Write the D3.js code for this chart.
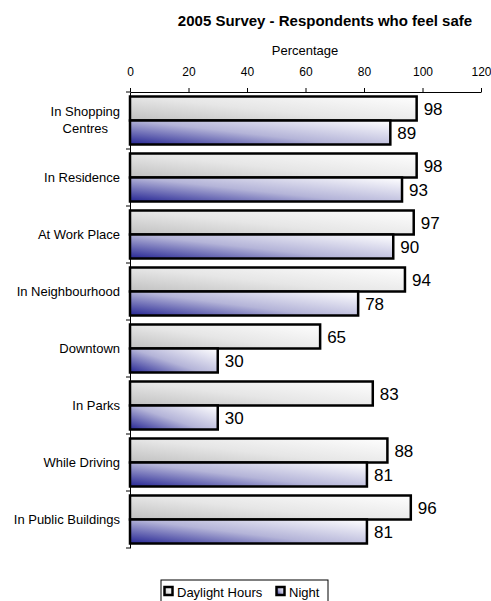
<!DOCTYPE html>
<html>
<head>
<meta charset="utf-8" />
<title>2005 Survey - Respondents who feel safe</title>
<style>
html, body {
    margin: 0;
    padding: 0;
    background: #fff;
}
#chart {
    width: 491px;
    height: 601px;
}
</style>
</head>
<body>
<div id="chart"></div>
<script src="https://cdn.jsdelivr.net/npm/d3@7"></script>
<script>
!(function(){
    "use strict"

    var categories = ["In Shopping Centres", "In Residence", "At Work Place", "In Neighbourhood",
                      "Downtown", "In Parks", "While Driving", "In Public Buildings"]
    var series = ["Daylight Hours", "Night"]
    var daylight = [98, 98, 97, 94, 65, 83, 88, 96]
    var night = [89, 93, 90, 78, 30, 30, 81, 81]
    var xTicks = [0, 20, 40, 60, 80, 100, 120]

    var width = 491, height = 601
    var margin = {top: 92, left: 130, right: 10, bottom: 53}
    var font = "'Liberation Sans', Arial, sans-serif"

    var svg = d3.select("#chart").append("svg")
        .attr("width", width)
        .attr("height", height)

    // gradients, like the excel fill effects
    var defs = svg.append("defs")
    var grads = [
        {id: "g0", from: "#c4c4c4", mid: "#e6e6e6", to: "#fcfcfc"},
        {id: "g1", from: "#33339a", mid: "#b4b4d8", to: "#fafafd"}
    ]
    grads.forEach(function(g) {
        var lg = defs.append("linearGradient")
            .attr("id", g.id)
            .attr("x1", 0).attr("y1", 0.9)
            .attr("x2", 1).attr("y2", 0.1)
        lg.append("stop").attr("offset", "0%").attr("stop-color", g.from)
        lg.append("stop").attr("offset", "45%").attr("stop-color", g.mid)
        lg.append("stop").attr("offset", "100%").attr("stop-color", g.to)
    })

    var x = d3.scaleLinear()
        .domain([0, 120])
        .range([margin.left, 481])

    var y = d3.scaleBand()
        .domain(categories)
        .range([margin.top, height - margin.bottom])

    var ySub = d3.scaleBand()
        .domain(series)
        .range([0, y.bandwidth()])
        .paddingOuter(0.1875)

    var rows = categories.map(function(c, i) {
        return {cat: c, values: [daylight[i], night[i]]}
    })

    // title
    svg.append("text")
        .attr("x", 325).attr("y", 26)
        .attr("text-anchor", "middle")
        .attr("font-family", font)
        .attr("font-size", "15px")
        .attr("font-weight", "bold")
        .text("2005 Survey - Respondents who feel safe")

    svg.append("text")
        .attr("x", 305).attr("y", 55)
        .attr("text-anchor", "middle")
        .attr("font-family", font)
        .attr("font-size", "13px")
        .text("Percentage")

    // top axis
    var xAxis = d3.axisTop(x)
        .tickValues(xTicks)
        .tickSize(4)
        .tickPadding(12)
        .tickSizeOuter(0)
    var gx = svg.append("g")
        .attr("transform", "translate(0," + margin.top + ")")
        .call(xAxis)
    gx.select(".domain").attr("stroke", "#000").attr("stroke-width", 1)
    gx.selectAll(".tick line").attr("stroke", "#000")
    gx.selectAll(".tick text")
        .attr("font-family", font)
        .attr("font-size", "12px")
        .attr("fill", "#000")

    // bars
    var group = svg.append("g")
        .selectAll("g")
        .data(rows)
        .enter().append("g")
        .attr("transform", function(d) { return "translate(0," + y(d.cat) + ")" })

    group.selectAll("rect")
        .data(function(d) { return d.values.map(function(v, j) { return {s: series[j], v: v, j: j} }) })
        .enter().append("rect")
        .attr("x", x(0))
        .attr("y", function(d) { return ySub(d.s) })
        .attr("width", function(d) { return x(d.v) - x(0) })
        .attr("height", ySub.bandwidth())
        .attr("fill", function(d) { return "url(#g" + d.j + ")" })
        .attr("stroke", "#000")
        .attr("stroke-width", 2.5)

    group.selectAll("text.val")
        .data(function(d) { return d.values.map(function(v, j) { return {s: series[j], v: v} }) })
        .enter().append("text")
        .attr("class", "val")
        .attr("x", function(d) { return x(d.v) + 7 })
        .attr("y", function(d) { return ySub(d.s) + ySub.bandwidth() / 2 + 6 })
        .attr("font-family", font)
        .attr("font-size", "17px")
        .text(function(d) { return d.v })

    // left axis
    var yAxis = d3.axisLeft(y)
        .tickValues([])
        .tickSizeOuter(0)
    svg.append("g")
        .attr("transform", "translate(" + margin.left + ",0)")
        .call(yAxis)
        .select(".domain").attr("stroke", "#000")

    svg.append("g")
        .selectAll("line")
        .data(categories.map(function(c) { return y(c) }).concat([y.range()[1]]))
        .enter().append("line")
        .attr("x1", margin.left - 4).attr("x2", margin.left)
        .attr("y1", function(d) { return d }).attr("y2", function(d) { return d })
        .attr("stroke", "#000")

    // category labels, long ones wrap into two centred lines
    var wrapped = {"In Shopping Centres": ["In Shopping", "Centres"]}
    categories.forEach(function(c) {
        var cy = y(c) + y.bandwidth() / 2
        var lines = wrapped[c] || [c]
        var t = svg.append("text")
            .attr("font-family", font)
            .attr("font-size", "13px")
        lines.forEach(function(l, k) {
            t.append("tspan")
                .attr("y", cy + 4 + (k - (lines.length - 1) / 2) * 17)
                .text(l)
        })
        var maxW = 0
        t.selectAll("tspan").each(function() { maxW = Math.max(maxW, this.getComputedTextLength()) })
        t.attr("text-anchor", "middle")
        t.selectAll("tspan").attr("x", 120 - maxW / 2)
    })

    // legend
    var lg = svg.append("g").attr("transform", "translate(161,580)")
    lg.append("rect")
        .attr("width", 167).attr("height", 24)
        .attr("fill", "#fff").attr("stroke", "#000")
    var items = [{s: series[0], x: 3, j: 0}, {s: series[1], x: 115, j: 1}]
    items.forEach(function(it) {
        lg.append("rect")
            .attr("x", it.x + 0.5).attr("y", 7)
            .attr("width", 8).attr("height", 8)
            .attr("fill", "url(#g" + it.j + ")")
            .attr("stroke", "#000").attr("stroke-width", 2.5)
        lg.append("text")
            .attr("x", it.x + 13).attr("y", 17)
            .attr("font-family", font)
            .attr("font-size", "13px")
            .text(it.s)
    })
}());
</script>
</body>
</html>
